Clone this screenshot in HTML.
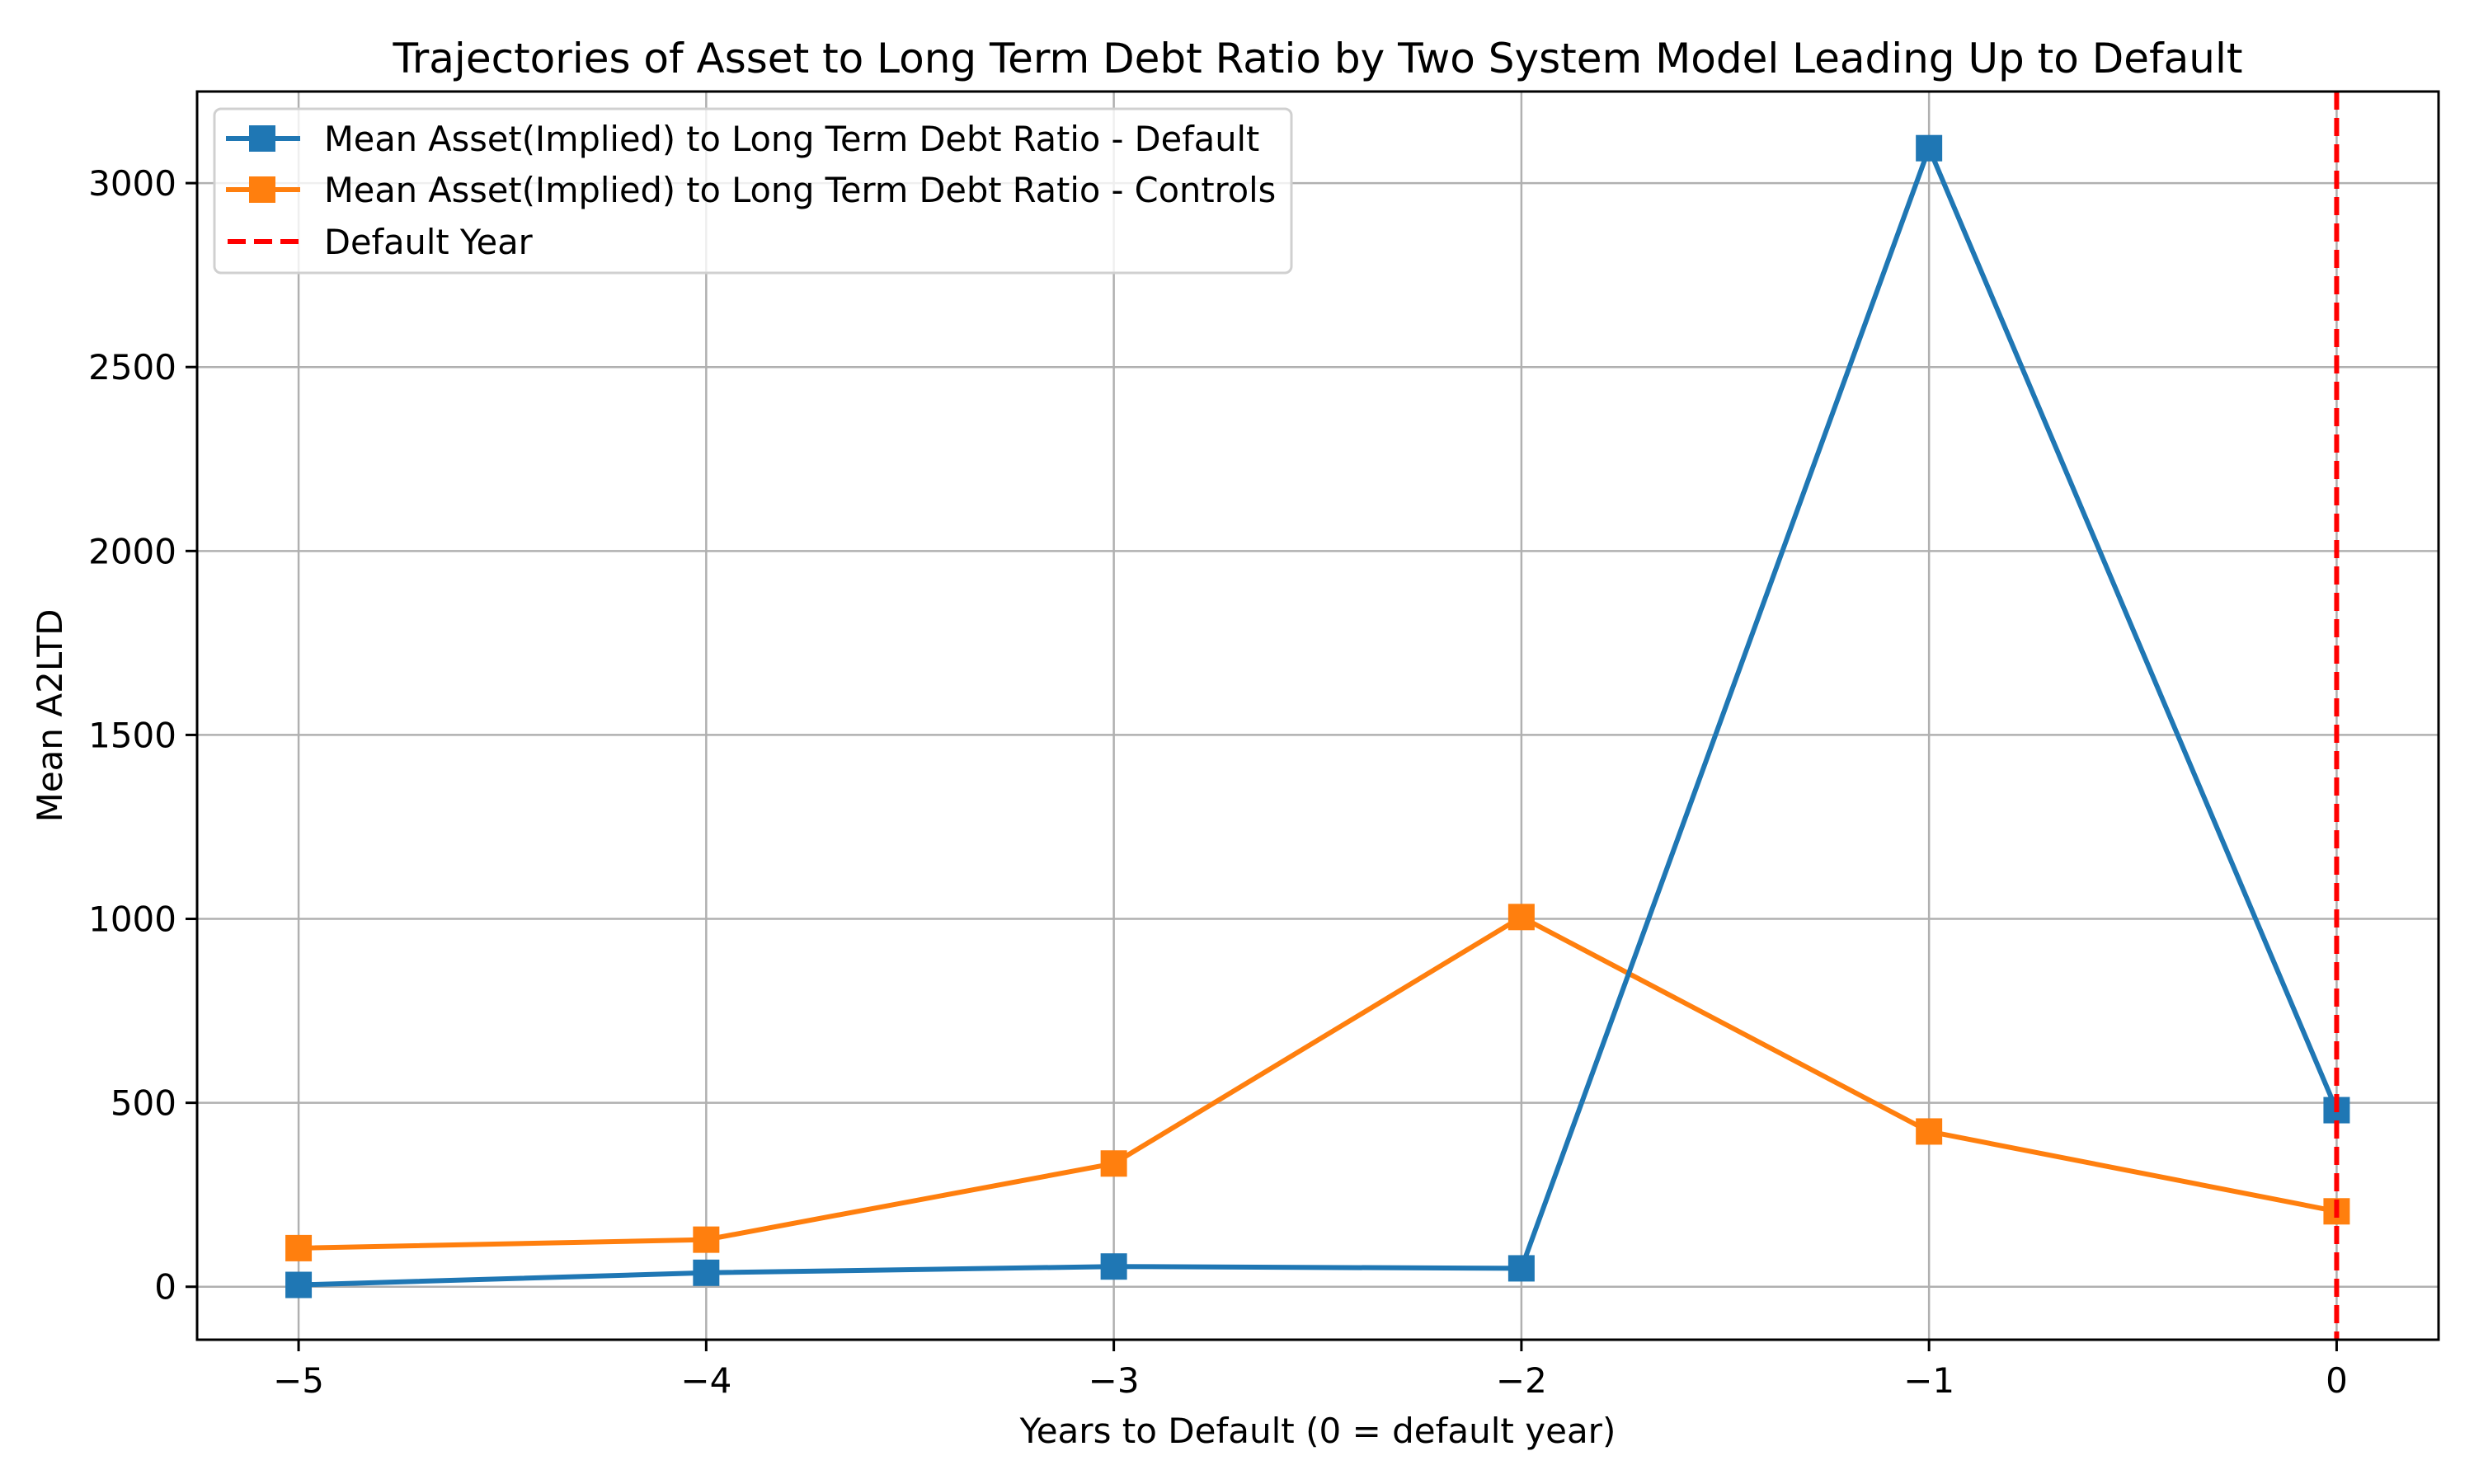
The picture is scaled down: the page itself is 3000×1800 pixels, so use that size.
<!DOCTYPE html>
<html><head><meta charset="utf-8"><style>
html,body{margin:0;padding:0;background:#fff;}
svg{display:block;font-family:"DejaVu Sans","Liberation Sans",sans-serif;}
</style></head><body>
<svg id="chart" width="3000" height="1800" viewBox="0 0 3000 1800">
<rect x="0" y="0" width="3000" height="1800" fill="#fff"/>
<g id="grid"></g>
<g id="series"></g>
<rect x="239" y="111" width="2718" height="1514" fill="none" stroke="#000" stroke-width="3"/>
<g id="ticks"></g>
<text x="1598" y="88" font-size="50" text-anchor="middle">Trajectories of Asset to Long Term Debt Ratio by Two System Model Leading Up to Default</text>
<text x="1598" y="1750" font-size="42" text-anchor="middle">Years to Default (0 = default year)</text>
<text transform="translate(75,868) rotate(-90)" font-size="42" text-anchor="middle">Mean A2LTD</text>
<g>
<rect x="260" y="132" width="1306" height="199" rx="8" fill="#fff" fill-opacity="0.8" stroke="#d0d0d0" stroke-width="3"/>
<g>
<line x1="274" y1="168" x2="364" y2="168" stroke="#1f77b4" stroke-width="6"/>
<rect x="302" y="152" width="32" height="32" fill="#1f77b4"/>
<text x="393" y="183" font-size="41.5">Mean Asset(Implied) to Long Term Debt Ratio - Default</text>
</g>
<g>
<line x1="274" y1="230" x2="364" y2="230" stroke="#ff7f0e" stroke-width="6"/>
<rect x="302" y="214" width="32" height="32" fill="#ff7f0e"/>
<text x="393" y="245" font-size="41.5">Mean Asset(Implied) to Long Term Debt Ratio - Controls</text>
</g>
<g>
<line x1="276" y1="293" x2="364" y2="293" stroke="#ff0000" stroke-width="6" stroke-dasharray="22,10"/>
<text x="393" y="308" font-size="41.5">Default Year</text>
</g>
</g>
</svg>
<script>
const years = [-5, -4, -3, -2, -1, 0];
const defaultVals = [5, 38, 55, 50, 3095, 480];
const controlVals = [105, 128, 335, 1005, 422, 205];
const xTicks = [-5, -4, -3, -2, -1, 0];
const yTicks = [0, 500, 1000, 1500, 2000, 2500, 3000];
const defaultYear = 0;

const NS = "http://www.w3.org/2000/svg";
const L = 239, R = 2957, T = 111, B = 1625;
const xMin = -5.249, xMax = 0.25, yMin = -144, yMax = 3249;
function sx(v){ return L + (v - xMin) / (xMax - xMin) * (R - L); }
function sy(v){ return B - (v - yMin) / (yMax - yMin) * (B - T); }
function mk(tag, attrs, parent){
  const e = document.createElementNS(NS, tag);
  for (const k in attrs) e.setAttribute(k, attrs[k]);
  parent.appendChild(e);
  return e;
}
const grid = document.getElementById('grid');
const ticks = document.getElementById('ticks');
const series = document.getElementById('series');

xTicks.forEach(v => {
  const g = mk('line', {x1: sx(v), x2: sx(v), y1: T, y2: B, stroke: '#b0b0b0', 'stroke-width': 2.5}, grid);
  
  
  const t = mk('line', {x1: sx(v), x2: sx(v), y1: B, y2: B + 14, stroke: '#000', 'stroke-width': 3}, ticks);
  
  
  const lb = mk('text', {x: sx(v), y: B + 64, 'font-size': 42, 'text-anchor': 'middle'}, ticks);
  lb.textContent = v < 0 ? '\u2212' + Math.abs(v) : String(v);
  
  
});
yTicks.forEach(v => {
  const g = mk('line', {x1: L, x2: R, y1: sy(v), y2: sy(v), stroke: '#b0b0b0', 'stroke-width': 2.5}, grid);
  
  
  const t = mk('line', {x1: L - 14, x2: L, y1: sy(v), y2: sy(v), stroke: '#000', 'stroke-width': 3}, ticks);
  
  
  const lb = mk('text', {x: L - 25, y: sy(v) + 15, 'font-size': 42, 'text-anchor': 'end'}, ticks);
  lb.textContent = String(v);
  
  
});

function drawSeries(vals, color, name){
  const pts = years.map((x, i) => sx(x) + ',' + sy(vals[i])).join(' ');
  const pl = mk('polyline', {points: pts, fill: 'none', stroke: color, 'stroke-width': 6, 'stroke-linejoin': 'round'}, series);
  
  
  years.forEach((x, i) => {
    const r = mk('rect', {x: sx(x) - 16, y: sy(vals[i]) - 16, width: 32, height: 32, fill: color}, series);
    
    
  });
}
drawSeries(controlVals, '#ff7f0e', 'controls');
drawSeries(defaultVals, '#1f77b4', 'default');
const dl = mk('line', {x1: sx(defaultYear), x2: sx(defaultYear), y1: T, y2: B, stroke: '#ff0000', 'stroke-width': 6, 'stroke-dasharray': '22,10'}, series);


</script>
</body></html>
